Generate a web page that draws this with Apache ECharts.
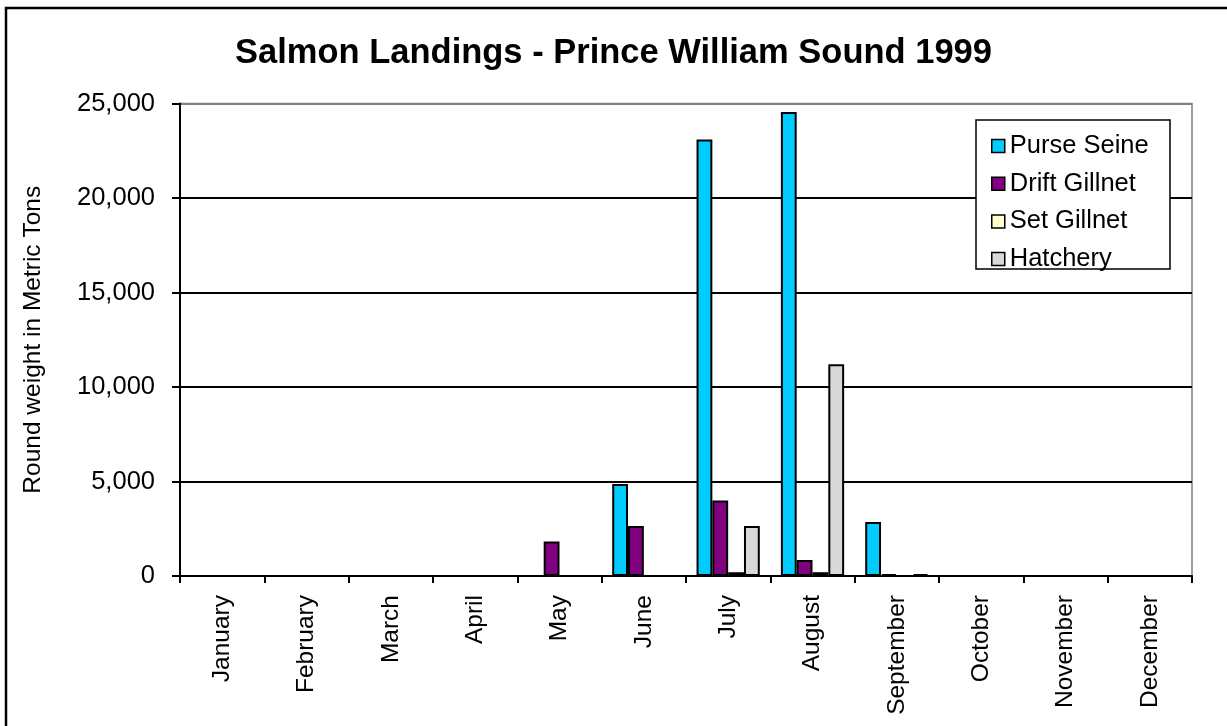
<!DOCTYPE html>
<html>
<head>
<meta charset="utf-8">
<script src="https://cdn.jsdelivr.net/npm/echarts@6/dist/echarts.min.js"></script>
<style>html,body{margin:0;padding:0;background:#fff;}#c{width:1227px;height:726px;}</style>
</head>
<body>
<div id="c"></div>
<script>
const months = ['January','February','March','April','May','June','July','August','September','October','November','December'];
const purseSeine   = [0, 0, 0, 0, 0, 4870, 23100, 24550, 2860, 0, 0, 0];
const driftGillnet = [0, 0, 0, 0, 1830, 2650, 4000, 850, 100, 0, 0, 0];
const setGillnet   = [0, 0, 0, 0, 0, 0, 200, 200, 0, 0, 0, 0];
const hatchery     = [0, 0, 0, 0, 0, 0, 2650, 11200, 100, 0, 0, 0];
const yTicks = [0, 5000, 10000, 15000, 20000, 25000];

const FONT = '"Liberation Sans", Arial, sans-serif';
const chart = echarts.init(document.getElementById('c'), null, {renderer: 'canvas'});

function bar(name, data, color) {
  return {
    name: name, type: 'bar', data: data,
    barGap: '0%', barCategoryGap: '25%',
    itemStyle: {color: color, borderColor: '#000', borderWidth: 2},
    emphasis: {disabled: true}
  };
}

chart.setOption({
  animation: false,
  backgroundColor: '#fff',
  textStyle: {fontFamily: FONT},
  title: {
    text: 'Salmon Landings - Prince William Sound 1999',
    left: 'center', top: 31,
    textStyle: {fontFamily: FONT, fontSize: 34.5, fontWeight: 'bold', color: '#000'}
  },
  graphic: [
    {type: 'rect', shape: {x: 6, y: 8, width: 1240, height: 740}, style: {fill: null, stroke: '#000', lineWidth: 2.5}, silent: true, z: 0},
    {type: 'rect', shape: {x: 976, y: 120, width: 194, height: 149}, style: {fill: '#fff', stroke: '#000', lineWidth: 1.5}, silent: true, z: 10}
  ],
  legend: {
    orient: 'vertical', left: 986, top: 128,
    itemWidth: 13, itemHeight: 13, itemGap: 11.7, itemTextGap: 11,
    icon: 'rect', z: 20,
    textStyle: {fontFamily: FONT, fontSize: 25.5, color: '#000', lineHeight: 25},
    itemStyle: {borderColor: '#000', borderWidth: 1.5},
    selectedMode: false,
    data: ['Purse Seine', 'Drift Gillnet', 'Set Gillnet', 'Hatchery']
  },
  grid: {
    left: 180, right: 35, top: 103.5, bottom: 150,
    show: true, borderColor: '#808080', borderWidth: 1.5, backgroundColor: 'transparent',
    containLabel: false
  },
  xAxis: {
    type: 'category', data: months, boundaryGap: true,
    axisLine: {show: true, lineStyle: {color: '#000', width: 2}},
    axisTick: {show: true, alignWithLabel: false, length: 7, lineStyle: {color: '#000', width: 2}},
    axisLabel: {rotate: 90, interval: 0, margin: 19, fontFamily: FONT, fontSize: 24.5, color: '#000'},
    splitLine: {show: false}
  },
  yAxis: {
    type: 'value', min: 0, max: 25000, interval: 5000,
    name: 'Round weight in Metric Tons', nameLocation: 'middle', nameRotate: 90, nameGap: 134,
    nameTextStyle: {fontFamily: FONT, fontSize: 24.5, color: '#000'},
    axisLine: {show: true, lineStyle: {color: '#000', width: 2}},
    axisTick: {show: true, length: 8, lineStyle: {color: '#000', width: 2}},
    axisLabel: {
      margin: 25, fontFamily: FONT, fontSize: 25.5, color: '#000',
      formatter: function (v) { return yTicks.indexOf(v) >= 0 ? v.toLocaleString('en-US') : ''; }
    },
    splitLine: {show: true, lineStyle: {color: ['#000', '#000', '#000', '#000', '#000', '#808080'], width: 2}}
  },
  series: [
    bar('Purse Seine', purseSeine, '#00CCFF'),
    bar('Drift Gillnet', driftGillnet, '#800080'),
    bar('Set Gillnet', setGillnet, '#FFFFCC'),
    bar('Hatchery', hatchery, '#D9D9D9')
  ]
});
</script>
</body>
</html>
